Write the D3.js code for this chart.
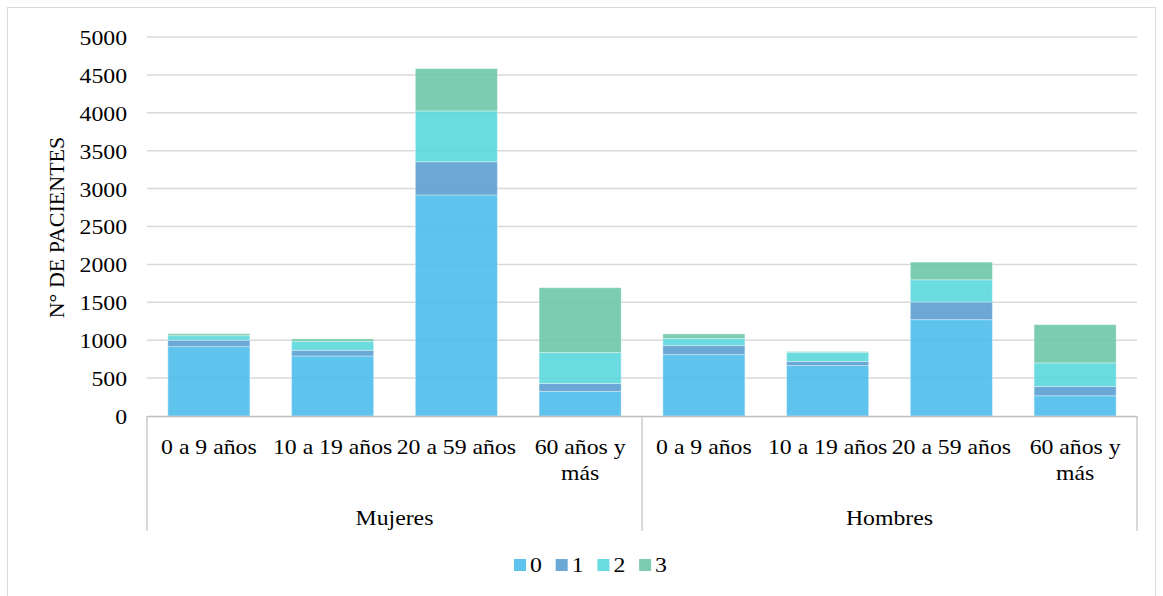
<!DOCTYPE html>
<html>
<head>
<meta charset="utf-8">
<script src="https://cdn.jsdelivr.net/npm/d3@7"></script>
<style>
  html, body { margin: 0; padding: 0; background: #fff; }
  svg { display: block; }
  text { font-family: "Liberation Serif", "Times New Roman", serif; fill: #000; }
</style>
</head>
<body>
<svg id="chart" width="1163" height="596"></svg>
<script>
// Patients by sex and age group, stacked by score (0–3)
const groups = ["Mujeres", "Hombres"];
const ageGroups = ["0 a 9 años", "10 a 19 años", "20 a 59 años", "60 años y más"];
const seriesNames = ["0", "1", "2", "3"];

const score0 = [915, 792, 2916, 324, 810, 665, 1271, 267];
const score1 = [85, 75, 438, 105, 119, 55, 233, 122];
const score2 = [60, 117, 671, 408, 92, 120, 293, 312];
const score3 = [25, 33, 558, 855, 62, 10, 233, 504];

const yTicks = [0, 500, 1000, 1500, 2000, 2500, 3000, 3500, 4000, 4500, 5000];
const colors = ["#4cbceb", "#5b9ed1", "#5ad8dd", "#6ec7aa"];

const rows = [];
groups.forEach((g, gi) => ageGroups.forEach((a, ai) => {
  const i = gi * ageGroups.length + ai;
  rows.push({ key: g + "|" + a, group: g, age: a,
    "0": score0[i], "1": score1[i], "2": score2[i], "3": score3[i] });
}));

const svg = d3.select("#chart");
const plotLeft = 147, plotRight = 1137, plotTop = 37, plotBottom = 416;
const fontSize = 22, wide = 1.08;   // horizontal text is drawn slightly wide

// horizontal text anchored at (px, py), widened around its anchor
function label(parent, px, py, str, anchor) {
  return parent.append("text")
    .attr("transform", `translate(${px},${py}) scale(${wide},1)`)
    .attr("text-anchor", anchor || "middle")
    .attr("font-size", fontSize)
    .text(str);
}

// outer frame
svg.append("rect").attr("x", 7.5).attr("y", 7.5).attr("width", 1148).attr("height", 600)
  .attr("fill", "none").attr("stroke", "#d9d9d9").attr("stroke-width", 1);

const x = d3.scaleBand().domain(rows.map(d => d.key)).range([plotLeft, plotRight])
  .paddingInner(0.337).paddingOuter(0.1685);
const y = d3.scaleLinear().domain([0, 5000]).range([plotBottom, plotTop]);

// gridlines
svg.append("g").selectAll("line").data(yTicks.filter(t => t > 0)).join("line")
  .attr("x1", plotLeft).attr("x2", plotRight)
  .attr("y1", d => y(d)).attr("y2", d => y(d))
  .attr("stroke", "#d9d9d9").attr("stroke-width", 1.5);

// y axis labels
const yAxis = d3.axisLeft(y).tickValues(yTicks).tickFormat(d3.format("d"))
  .tickSize(0).tickPadding(20);
const ya = svg.append("g").attr("transform", `translate(${plotLeft},0)`).call(yAxis);
ya.select(".domain").remove();
ya.attr("font-family", null).attr("font-size", null);
ya.selectAll("text")
  .attr("font-size", fontSize).attr("fill", "#000")
  .attr("x", -20 / wide).attr("dy", "0.34em")
  .attr("transform", `scale(${wide},1)`);

// axis title
svg.append("text").attr("transform", `translate(64,${(plotTop + plotBottom) / 2 + 1}) rotate(-90)`)
  .attr("text-anchor", "middle").attr("font-size", fontSize).text("N° DE PACIENTES");

// stacked bars
const stack = d3.stack().keys(seriesNames)(rows);
svg.append("g").selectAll("g").data(stack).join("g")
  .attr("fill", (d, i) => colors[i])
  .selectAll("rect").data(d => d).join("rect")
  .attr("x", d => x(d.data.key))
  .attr("width", x.bandwidth())
  .attr("y", d => y(d[1]))
  .attr("height", d => y(d[0]) - y(d[1]))
  .attr("fill-opacity", 0.9)
  .attr("stroke", "#ffffff").attr("stroke-opacity", 0.35).attr("stroke-width", 1);

// category axis baseline and group separators
const axisColor = "#bfbfbf";
svg.append("line").attr("x1", plotLeft).attr("x2", plotRight)
  .attr("y1", plotBottom + 0.5).attr("y2", plotBottom + 0.5)
  .attr("stroke", axisColor).attr("stroke-width", 1.5);
const sepX = [plotLeft, plotLeft + (plotRight - plotLeft) / 2, plotRight];
svg.append("g").selectAll("line").data(sepX).join("line")
  .attr("x1", d => d).attr("x2", d => d).attr("y1", plotBottom).attr("y2", 531)
  .attr("stroke", axisColor).attr("stroke-width", 1.2);

// age labels (the last one wraps onto two lines)
const ageG = svg.append("g");
rows.forEach(r => {
  const cx = x(r.key) + x.bandwidth() / 2;
  if (r.age === "60 años y más") {
    label(ageG, cx, 454, "60 años y");
    label(ageG, cx, 480, "más");
  } else {
    label(ageG, cx, 454, r.age);
  }
});

// group labels
groups.forEach((g, gi) => {
  const x0 = plotLeft + gi * (plotRight - plotLeft) / 2;
  label(svg, x0 + (plotRight - plotLeft) / 4, 525, g);
});

// legend
const legend = svg.append("g");
seriesNames.forEach((s, i) => {
  const lx = 514 + i * 41.7;
  legend.append("rect").attr("x", lx).attr("y", 559).attr("width", 12).attr("height", 12)
    .attr("fill", colors[i]).attr("fill-opacity", 0.9);
  label(legend, lx + 16, 572, s, "start");
});
</script>
</body>
</html>
